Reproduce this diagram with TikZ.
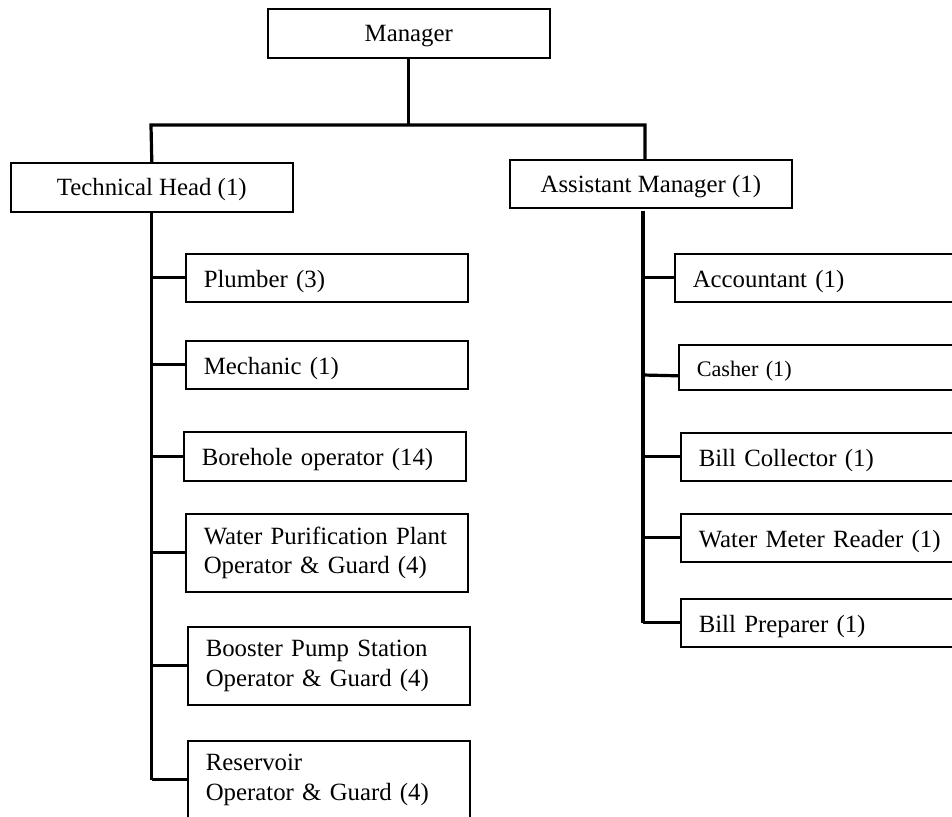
\documentclass[tikz,border=0pt]{standalone}
\usepackage{fontspec}
\setmainfont{Liberation Serif}

\begin{document}
\begin{tikzpicture}[x=0.5pt, y=-0.5pt,
    head/.style={draw, line width=0.8pt, anchor=north west, minimum width=141pt, minimum height=24.5pt, inner sep=0pt, text height=11pt, text depth=2.5pt, align=center, font=\fontsize{12.4}{14.9}\selectfont},
    post/.style={draw, line width=0.8pt, anchor=north west, minimum height=24pt, text width=123pt, inner xsep=9pt, inner ysep=0pt, align=left, font=\fontsize{12.4}{14.9}\selectfont},
    one/.style={post, text height=12pt, text depth=2.5pt},
    conn/.style={line width=1.6pt}]
            \useasboundingbox (0,0) rectangle (952,816);

            % top level
            \node[head] (mgr) at (267,8) {Manager};
            \node[head] (th) at (10,162) {Technical Head (1)};
            \node[head, minimum height=24pt] (am) at (509,159) {Assistant Manager (1)};

            \coordinate (tl) at (151,125);
            \coordinate (tr) at (645,125);
            \coordinate (rt) at (643,211);
            \draw[conn] (mgr.south) -- (mgr.south |- tl);
            \draw[conn] (th.north) -- (tl) -- (tr) -- (tr |- am.north);

            % technical side
            \node[one] (plumb) at (185,253) {Plumber (3)};
            \node[one] (mech) at (185,340) {Mechanic (1)};
            \node[one, minimum height=24.5pt] (bore) at (183,431) {Borehole operator (14)};
            \node[post, minimum height=39pt] (wpp) at (185,513) {Water Purification Plant\\Operator \& Guard (4)};
            \node[post, minimum height=39pt] (bps) at (187,626) {Booster Pump Station\\Operator \& Guard (4)};
            \node[post, minimum height=39pt] (res) at (187,740) {Reservoir\\Operator \& Guard (4)};

            \draw[conn] (th.south) -- (th.south |- res.west);
            \foreach \n in {plumb,mech,bore,wpp,bps,res}
                \draw[conn] (th.south |- \n.west) -- (\n.west);

            % admin side
            \node[one] (acc) at (674,253) {Accountant (1)};
            \node[one, minimum height=22.5pt, font=\fontsize{11.1}{13.3}\selectfont] (cash) at (678,344) {Casher (1)};
            \node[one] (bc) at (680,432) {Bill Collector (1)};
            \node[one] (wmr) at (680,513) {Water Meter Reader (1)};
            \node[one] (bp) at (680,598) {Bill Preparer (1)};

            \draw[conn] (rt) -- (rt |- bp.west);
            \foreach \n in {acc,bc,wmr,bp}
                \draw[conn] (rt |- \n.west) -- (\n.west);
            \draw[conn] (rt |- 0,375) -- ([yshift=-4.25pt]cash.west);
        \end{tikzpicture}
\end{document}
